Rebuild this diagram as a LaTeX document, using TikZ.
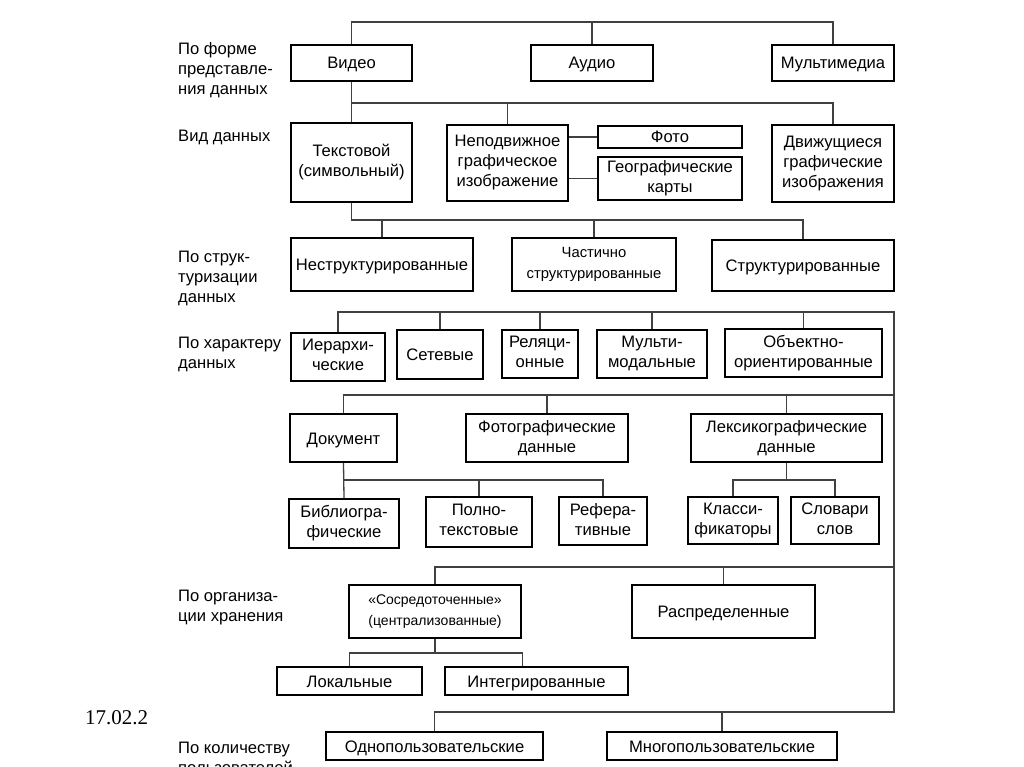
\documentclass[tikz,border=0pt]{standalone}
\usepackage{fontspec}
\setmainfont{Liberation Sans}
\newfontfamily\datefont{Liberation Serif}
\newcommand\boxstrut{\rule[-3.5pt]{0pt}{19pt}}

\begin{document}
\begin{tikzpicture}[
      x=1pt, y=-1pt,
      every node/.style={font=\fontsize{16.6}{20}\selectfont},
      box/.style={draw, line width=2.3pt, align=center, inner sep=0pt,
        execute at begin node=\boxstrut, execute at end node=\boxstrut},
      link/.style={draw=black!75, line width=1.3pt},
      side/.style={anchor=west, align=left, inner sep=0pt}
  ]
    \clip (0,0) rectangle (1024,767);
    \coordinate (b1) at (0,22);
    \coordinate (b2) at (0,103);
    \coordinate (b3) at (0,220);
    \coordinate (b5) at (0,395);
    \coordinate (b6) at (0,480);
    \coordinate (b7) at (0,567);
    \coordinate (b8) at (0,653);
    \coordinate (railtop) at (894,312);
    \coordinate (railbot) at (894,712);

    \node[side] (lform) at (178,70) {По форме\\представле-\\ния данных};
    \node[side] (lkind) at (178,137) {Вид данных};
    \node[side] (lstruct) at (178,278) {По струк-\\туризации\\данных};
    \node[side] (lchar) at (178,354) {По характеру\\данных};
    \node[side] (lstore) at (178,608) {По организа-\\ции хранения};
    \node[side] (lusers) at (178,758) {По количеству\\пользователей};
    \node[anchor=west, inner sep=0pt, font=\datefont\fontsize{21}{24}\selectfont] (date) at (85,718) {17.02.2};

    \node[box, minimum width=121, minimum height=36] (video) at (351.5,63) {Видео};
    \node[box, minimum width=122, minimum height=36] (audio) at (592,63) {Аудио};
    \node[box, minimum width=122, minimum height=36] (multi) at (833,63) {Мультимедиа};

    \node[box, minimum width=121, minimum height=79] (textd) at (351.5,162.5) {Текстовой\\(символьный)};
    \node[box, minimum width=121, minimum height=76] (still) at (507.5,163) {Неподвижное\\графическое\\изображение};
    \node[box, minimum width=144, minimum height=22] (photo) at (670,137) {Фото};
    \node[box, minimum width=144, minimum height=43] (maps) at (670,178.5) {Географические\\карты};
    \node[box, minimum width=122, minimum height=77] (moving) at (833,163.5) {Движущиеся\\графические\\изображения};

    \node[box, minimum width=182, minimum height=53] (unstr) at (382,264.5) {Неструктурированные};
    \node[box, minimum width=164, minimum height=53, font=\fontsize{14.8}{21}\selectfont] (semi) at (594,264.5) {Частично\\структурированные};
    \node[box, minimum width=182, minimum height=51] (struct) at (803,265.5) {Структурированные};

    \node[box, minimum width=94, minimum height=48] (hier) at (338,357) {Иерархи-\\ческие};
    \node[box, minimum width=86, minimum height=49] (net) at (440,354.5) {Сетевые};
    \node[box, minimum width=76, minimum height=48] (rel) at (540,354) {Реляци-\\онные};
    \node[box, minimum width=110, minimum height=48] (multimod) at (652,354) {Мульти-\\модальные};
    \node[box, minimum width=157, minimum height=48] (oo) at (803.5,353) {Объектно-\\ориентированные};

    \node[box, minimum width=107, minimum height=48] (doc) at (343.5,438) {Документ};
    \node[box, minimum width=162, minimum height=48] (photod) at (547,438) {Фотографические\\данные};
    \node[box, minimum width=191, minimum height=48] (lex) at (786.5,438) {Лексикографические\\данные};

    \node[box, minimum width=110, minimum height=49] (biblio) at (344,523.5) {Библиогра-\\фические};
    \node[box, minimum width=106, minimum height=50] (full) at (479,522) {Полно-\\текстовые};
    \node[box, minimum width=88, minimum height=48] (abstr) at (603,521) {Рефера-\\тивные};
    \node[box, minimum width=90, minimum height=47] (classif) at (733,520.5) {Класси-\\фикаторы};
    \node[box, minimum width=88, minimum height=47] (dict) at (835,520.5) {Словари\\слов};

    \node[box, minimum width=172, minimum height=53, font=\fontsize{14}{21}\selectfont] (central) at (435,611.5) {«Сосредоточенные»\\(централизованные)};
    \node[box, minimum width=183, minimum height=53] (distrib) at (723.5,611.5) {Распределенные};
    \node[box, minimum width=145, minimum height=28] (local) at (349.5,681) {Локальные};
    \node[box, minimum width=183, minimum height=28] (integr) at (536.5,681) {Интегрированные};

    \node[box, minimum width=217, minimum height=28] (single) at (434.5,746) {Однопользовательские};
    \node[box, minimum width=230, minimum height=28] (multiu) at (722,746) {Многопользовательские};

    \draw[link] (video.north) -- (video.north |- b1) -- (multi.north |- b1) -- (multi.north);
    \draw[link] (audio.north) -- (audio.north |- b1);

    \draw[link] (video.south) -- (textd.north);
    \draw[link] (video.south |- b2) -- (moving.north |- b2) -- (moving.north);
    \draw[link] (still.north) -- (still.north |- b2);
    \draw[link] (photo.west) -- (photo.west -| still.east);
    \draw[link] (maps.west) -- (maps.west -| still.east);

    \draw[link] (textd.south) -- (textd.south |- b3) -- (struct.north |- b3) -- (struct.north);
    \draw[link] (unstr.north) -- (unstr.north |- b3);
    \draw[link] (semi.north) -- (semi.north |- b3);

    \draw[link] (hier.north) -- (hier.north |- railtop) -- (railtop) -- (railbot) -- (single.north |- railbot) -- (single.north);
    \draw[link] (net.north) -- (net.north |- railtop);
    \draw[link] (rel.north) -- (rel.north |- railtop);
    \draw[link] (multimod.north) -- (multimod.north |- railtop);
    \draw[link] (oo.north) -- (oo.north |- railtop);
    \draw[link] (multiu.north) -- (multiu.north |- railbot);

    \draw[link] (doc.north) -- (doc.north |- b5) -- (railtop |- b5);
    \draw[link] (photod.north) -- (photod.north |- b5);
    \draw[link] (lex.north) -- (lex.north |- b5);

    \draw[link] (doc.south) -- (biblio.north);
    \draw[link] (doc.south |- b6) -- (abstr.north |- b6) -- (abstr.north);
    \draw[link] (full.north) -- (full.north |- b6);
    \draw[link] (lex.south) -- (lex.south |- b6);
    \draw[link] (classif.north) -- (classif.north |- b6) -- (dict.north |- b6) -- (dict.north);

    \draw[link] (central.north) -- (central.north |- b7) -- (railtop |- b7);
    \draw[link] (distrib.north) -- (distrib.north |- b7);
    \draw[link] (central.south) -- (central.south |- b8);
    \draw[link] (local.north) -- (local.north |- b8) -- (central.east |- b8) -- (central.east |- integr.north);
  \end{tikzpicture}
\end{document}
